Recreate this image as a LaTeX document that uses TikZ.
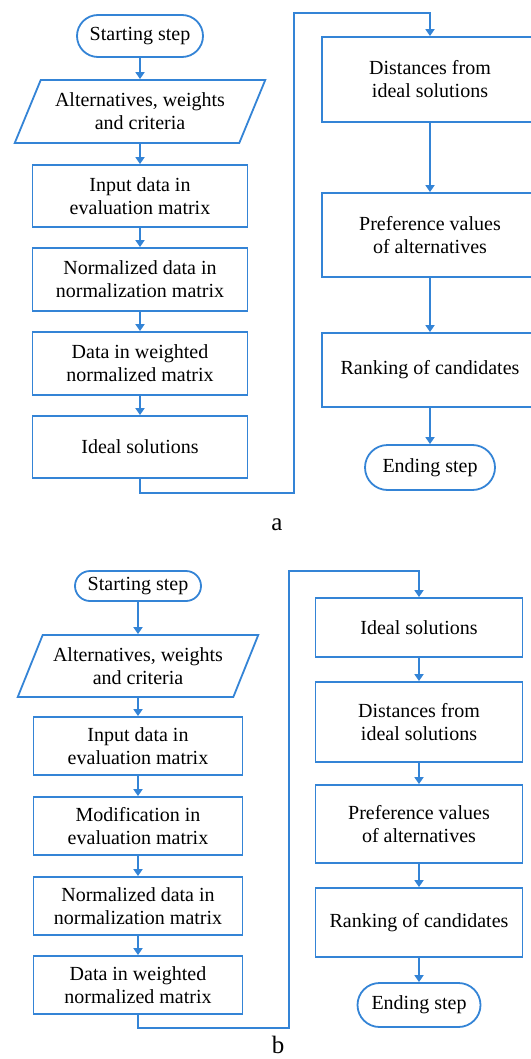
\documentclass[tikz,border=0pt]{standalone}
\usepackage{fontspec}
\setmainfont{Liberation Serif}
\usetikzlibrary{arrows.meta,shapes.geometric,shapes.misc}
\definecolor{flowblue}{RGB}{52,132,214}
\tikzset{
  stepbox/.style={draw=flowblue, line width=1.8pt, fill=white, align=center,
    inner sep=2pt, font=\fontsize{20}{23}\selectfont},
  terminal/.style={stepbox, rounded rectangle},
  datain/.style={stepbox, trapezium, trapezium left angle=61,
    trapezium right angle=119, trapezium stretches=true},
  flow/.style={draw=flowblue, line width=1.8pt,
    -{Triangle[width=9pt,length=7pt]}},
  caption/.style={font=\fontsize{25}{28}\selectfont}
}
\begin{document}
\begin{tikzpicture}[x=1pt,y=-1pt]
\useasboundingbox (0,0) rectangle (530,1059);
% Flowchart a: left column
\node[terminal, minimum width=130pt, minimum height=42pt] (startA) at (140,36) {Starting step};
\node[datain, minimum width=251pt, minimum height=63pt] (parA) at (140,111.5) {Alternatives, weights\\and criteria};
\node[stepbox, minimum width=215pt, minimum height=62pt] (inA) at (140,196) {Input data in\\evaluation matrix};
\node[stepbox, minimum width=215pt, minimum height=63pt] (normA) at (140,279.5) {Normalized data in\\normalization matrix};
\node[stepbox, minimum width=215pt, minimum height=63pt] (wghtA) at (140,363.5) {Data in weighted\\normalized matrix};
\node[stepbox, minimum width=215pt, minimum height=62pt] (idealA) at (140,447) {Ideal solutions};
% Flowchart a: right column
\node[stepbox, minimum width=216pt, minimum height=85pt] (distA) at (430,79.5) {Distances from\\ideal solutions};
\node[stepbox, minimum width=216pt, minimum height=84pt] (prefA) at (430,235) {Preference values\\of alternatives};
\node[stepbox, minimum width=216pt, minimum height=74pt] (rankA) at (430,370) {Ranking of candidates};
\node[terminal, minimum width=134pt, minimum height=45pt] (endA) at (430,467.5) {Ending step};
\coordinate (lowA) at (294,493);
\coordinate (highA) at (294,13);
% Flowchart a: arrows
\draw[flow] (startA) -- (parA);
\draw[flow] (parA) -- (inA);
\draw[flow] (inA) -- (normA);
\draw[flow] (normA) -- (wghtA);
\draw[flow] (wghtA) -- (idealA);
\draw[flow] (idealA.south) |- (lowA) -- (highA) -| (distA.north);
\draw[flow] (distA) -- (prefA);
\draw[flow] (prefA) -- (rankA);
\draw[flow] (rankA) -- (endA);
\node[caption] (capA) at (277,525) {a};
% Flowchart b: left column
\node[terminal, minimum width=130pt, minimum height=30pt] (startB) at (138,586) {Starting step};
\node[datain, minimum width=241pt, minimum height=62pt] (parB) at (138,666) {Alternatives, weights\\and criteria};
\node[stepbox, minimum width=209pt, minimum height=58pt] (inB) at (138,746) {Input data in\\evaluation matrix};
\node[stepbox, minimum width=209pt, minimum height=58pt] (modB) at (138,826) {Modification in\\evaluation matrix};
\node[stepbox, minimum width=209pt, minimum height=58pt] (normB) at (138,906) {Normalized data in\\normalization matrix};
\node[stepbox, minimum width=209pt, minimum height=58pt] (wghtB) at (138,985) {Data in weighted\\normalized matrix};
% Flowchart b: right column
\node[stepbox, minimum width=207pt, minimum height=59pt] (idealB) at (419,627.5) {Ideal solutions};
\node[stepbox, minimum width=207pt, minimum height=80pt] (distB) at (419,722) {Distances from\\ideal solutions};
\node[stepbox, minimum width=207pt, minimum height=78pt] (prefB) at (419,824) {Preference values\\of alternatives};
\node[stepbox, minimum width=207pt, minimum height=69pt] (rankB) at (419,922.5) {Ranking of candidates};
\node[terminal, minimum width=127pt, minimum height=44pt] (endB) at (419,1005) {Ending step};
\coordinate (lowB) at (289,1028);
\coordinate (highB) at (289,571);
% Flowchart b: arrows
\draw[flow] (startB) -- (parB);
\draw[flow] (parB) -- (inB);
\draw[flow] (inB) -- (modB);
\draw[flow] (modB) -- (normB);
\draw[flow] (normB) -- (wghtB);
\draw[flow] (wghtB.south) |- (lowB) -- (highB) -| (idealB.north);
\draw[flow] (idealB) -- (distB);
\draw[flow] (distB) -- (prefB);
\draw[flow] (prefB) -- (rankB);
\draw[flow] (rankB) -- (endB);
\node[caption] (capB) at (278,1045) {b};
\end{tikzpicture}
\end{document}
